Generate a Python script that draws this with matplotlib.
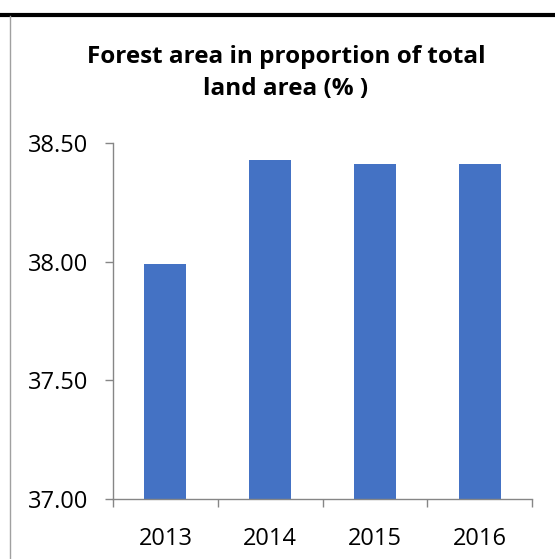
import matplotlib
matplotlib.use("Agg")
import matplotlib.pyplot as plt
from matplotlib.lines import Line2D

years = ["2013", "2014", "2015", "2016"]
forest_share = [37.99, 38.43, 38.41, 38.41]
y_ticks = [37.00, 37.50, 38.00, 38.50]

bar_color = "#4472C4"
axis_color = "#868686"

plt.rcParams["font.family"] = ["Open Sans", "DejaVu Sans"]

fig = plt.figure(figsize=(5.55, 5.59), dpi=100)
ax = fig.add_axes([113 / 555, 1 - 499 / 559, (532 - 113) / 555, (499 - 143) / 559])

x = range(len(years))
ax.bar(x, forest_share, width=0.4, color=bar_color, zorder=2)
ax.set_xlim(-0.5, len(years) - 0.5)
ax.set_ylim(37.0, 38.5)

ax.set_yticks(y_ticks)
ax.set_yticklabels([f"{v:.2f}" for v in y_ticks])
ax.set_xticks(x)
ax.set_xticklabels(years)
ax.tick_params(axis="both", which="major", length=0, labelsize=17, colors="black", pad=20)
ax.tick_params(axis="y", which="major", length=6, color=axis_color, width=1, pad=12)

# category boundary ticks on x axis
ax.set_xticks([i - 0.5 for i in range(len(years) + 1)], minor=True)
ax.tick_params(axis="x", which="minor", length=6, color=axis_color, width=1)

for side in ["top", "right"]:
    ax.spines[side].set_visible(False)
for side in ["left", "bottom"]:
    ax.spines[side].set_color(axis_color)
    ax.spines[side].set_linewidth(1)

fig.text(286 / 555, 1 - 45 / 559, "Forest area in proportion of total\nland area (% )",
         ha="center", va="top", fontsize=17.5, fontweight="bold", linespacing=1.45)

# frame lines around the chart
fig.add_artist(Line2D([0, 1], [1 - 14.5 / 559, 1 - 14.5 / 559], color="black", linewidth=3))
fig.add_artist(Line2D([10 / 555, 10 / 555], [0, 1 - 16 / 559], color="#a0a0a0", linewidth=1))

fig.savefig("out.png", dpi=100)
